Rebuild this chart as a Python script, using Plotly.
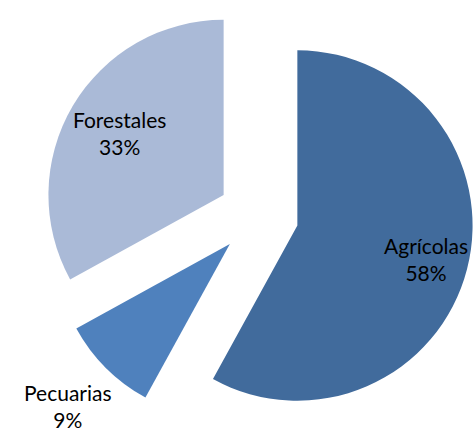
import math
import plotly.graph_objects as go

labels = ["Agrícolas", "Pecuarias", "Forestales"]
values = [58, 9, 33]
colors = ["#416B9C", "#4F81BD", "#AABAD7"]

# styling / layout parameters
PULL = 0.23
label_dist = [0.99, 1.54, 0.92]   # label distance from pie centre, in radii
W, H = 474, 431
DOM_X = [0.09, 1.0]
DOM_Y = [0.0, 1.0]
FONT = dict(family="Lato", size=21, color="black")

fig = go.Figure(go.Pie(
    labels=labels,
    values=values,
    sort=False,
    direction="clockwise",
    rotation=0,
    pull=[PULL] * len(values),
    marker=dict(colors=colors, line=dict(width=0)),
    textinfo="none",
    hoverinfo="label+percent",
    domain=dict(x=DOM_X, y=DOM_Y),
    showlegend=False,
))

# label positions derived from the slice angles
dw = (DOM_X[1] - DOM_X[0]) * W
dh = (DOM_Y[1] - DOM_Y[0]) * H
r = min(dw, dh) / 2 / (1 + PULL)
cx = (DOM_X[0] + DOM_X[1]) / 2 * W
cy = (1 - (DOM_Y[0] + DOM_Y[1]) / 2) * H
total = sum(values)
start = 0.0
for lab, v, k in zip(labels, values, label_dist):
    mid = (start + v / 2) / total * 2 * math.pi
    start += v
    px = cx + k * r * math.sin(mid)
    py = cy - k * r * math.cos(mid)
    pct = round(v / total * 100)
    fig.add_annotation(
        x=px / W, y=1 - py / H, xref="paper", yref="paper",
        text=f"{lab}<br>{pct}%", showarrow=False,
        xanchor="center", yanchor="middle", font=FONT,
    )

fig.update_layout(
    width=W, height=H,
    margin=dict(l=0, r=0, t=0, b=0),
    paper_bgcolor="white",
)
fig.write_html(
    "out.html",
    config={"displayModeBar": False},
    post_script="document.body.style.margin='0';document.body.style.overflow='hidden';",
)
